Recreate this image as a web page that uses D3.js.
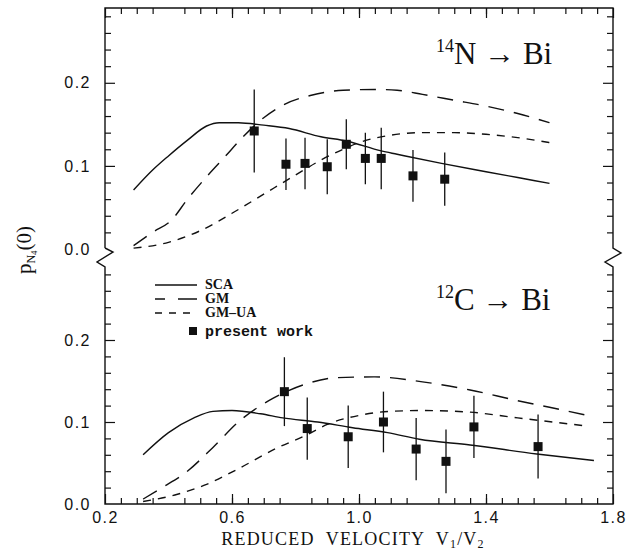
<!DOCTYPE html>
<html>
<head>
<meta charset="utf-8">
<script src="https://cdn.jsdelivr.net/npm/d3@7"></script>
<style>
  body { margin: 0; background: #fff; }
  svg { display: block; }
  .tick text { font-family: "Liberation Sans", sans-serif; font-size: 16px; letter-spacing: 1.5px; fill: #111; }
  .tick line { stroke: #111; stroke-width: 1.2; }
</style>
</head>
<body>
<script>
// data ( [v1/v2, p] )
var topSCA = [[0.29,0.071],[0.35,0.095],[0.40,0.112],[0.46,0.131],[0.52,0.148],[0.56,0.152],[0.62,0.152],[0.70,0.149],[0.78,0.145],[0.88,0.135],[0.96,0.130],[1.07,0.118],[1.12,0.114],[1.26,0.103],[1.40,0.093],[1.50,0.086],[1.60,0.079]];
var topGM = [[0.29,0.004],[0.35,0.020],[0.41,0.035],[0.46,0.060],[0.52,0.087],[0.58,0.112],[0.63,0.133],[0.70,0.158],[0.76,0.173],[0.85,0.185],[0.95,0.191],[1.05,0.192],[1.12,0.191],[1.20,0.186],[1.30,0.179],[1.40,0.172],[1.50,0.163],[1.60,0.152]];
var topGMUA = [[0.29,0.001],[0.40,0.008],[0.50,0.022],[0.60,0.043],[0.70,0.066],[0.80,0.089],[0.88,0.107],[0.95,0.120],[1.00,0.128],[1.10,0.137],[1.20,0.140],[1.30,0.140],[1.40,0.138],[1.50,0.134],[1.60,0.128]];
var topPts = [0.67, 0.77, 0.83, 0.90, 0.96, 1.02, 1.07, 1.17, 1.27];
var topVals = [0.142, 0.102, 0.103, 0.099, 0.126, 0.109, 0.109, 0.088, 0.084];
var topErr = [0.050, 0.031, 0.031, 0.033, 0.030, 0.031, 0.037, 0.031, 0.032];

var botSCA = [[0.32,0.060],[0.40,0.087],[0.48,0.105],[0.54,0.113],[0.60,0.114],[0.69,0.110],[0.76,0.105],[0.87,0.100],[0.98,0.093],[1.09,0.087],[1.19,0.079],[1.35,0.072],[1.56,0.061],[1.74,0.053]];
var botGM = [[0.32,0.006],[0.38,0.020],[0.45,0.037],[0.54,0.069],[0.62,0.100],[0.73,0.129],[0.83,0.146],[0.93,0.154],[1.05,0.155],[1.20,0.149],[1.35,0.139],[1.50,0.126],[1.60,0.118],[1.72,0.108]];
var botGMUA = [[0.32,0.003],[0.42,0.011],[0.52,0.024],[0.62,0.043],[0.74,0.068],[0.84,0.085],[0.90,0.097],[1.00,0.108],[1.10,0.113],[1.20,0.114],[1.35,0.112],[1.50,0.105],[1.72,0.095]];
var botPts = [0.765, 0.837, 0.966, 1.077, 1.18, 1.274, 1.362, 1.564];
var botVals = [0.137, 0.092, 0.082, 0.100, 0.067, 0.052, 0.094, 0.070];
var botErr = [0.042, 0.038, 0.038, 0.037, 0.038, 0.039, 0.038, 0.039];

var xMajor = [0.2, 0.6, 1.0, 1.4, 1.8];
var legNames = ["SCA", "GM", "GM\u2013UA"];

var W = 634, H = 552;
var svg = d3.select("body").append("svg").attr("width", W).attr("height", H);

var x = d3.scaleLinear().domain([0.2, 1.8]).range([105, 613]);
var yTop = d3.scaleLinear().domain([0, 0.29]).range([249, 8]);
var yBot = d3.scaleLinear().domain([0, 0.2]).range([504, 340]);

var xMinor = d3.range(0.25, 1.8, 0.05).filter(function (d) { return Math.abs(d*10/4 - Math.round(d*10/4)) > 0.01; });
var yMinor = d3.range(0.02, 0.29, 0.02).filter(function (d) { return Math.abs(d*10 - Math.round(d*10)) > 0.01; });

// frame with axis breaks
var L = 105, R = 613, T = 8, B = 504;
var frame = "M" + L + "," + 248 + "V" + T + "H" + R + "V" + 248 +
  "L" + (R+8) + ",253L" + (R-8) + ",262L" + R + ",267V" + B + "H" + L + "V267" +
  "L" + (L-8) + ",262L" + (L+8) + ",252L" + L + ",248";
svg.append("path").attr("d", frame).attr("fill", "none").attr("stroke", "#111").attr("stroke-width", 1.4);

// x ticks (bottom + top)
svg.append("g").attr("transform", "translate(0," + B + ")")
  .call(d3.axisBottom(x).tickValues(xMinor).tickSize(-6).tickFormat(""));
svg.append("g").attr("transform", "translate(0," + B + ")")
  .call(d3.axisBottom(x).tickValues(xMajor).tickSize(-10).tickFormat(d3.format(".1f")))
  .selectAll("text").attr("dy", 0).attr("y", 19);
svg.append("g").attr("transform", "translate(0," + T + ")")
  .call(d3.axisTop(x).tickValues(xMinor).tickSize(-6).tickFormat(""));
svg.append("g").attr("transform", "translate(0," + T + ")")
  .call(d3.axisTop(x).tickValues(xMajor).tickSize(-10).tickFormat(""));

// y ticks, both panels, left and right
function yTicks(scale, minor, major) {
  svg.append("g").attr("transform", "translate(" + L + ",0)")
    .call(d3.axisLeft(scale).tickValues(minor).tickSize(-6).tickFormat(""));
  var g = svg.append("g").attr("transform", "translate(" + L + ",0)")
    .call(d3.axisLeft(scale).tickValues(major).tickSize(-10).tickFormat(d3.format(".1f")));
  g.selectAll("text").attr("x", -14);
  svg.append("g").attr("transform", "translate(" + R + ",0)")
    .call(d3.axisRight(scale).tickValues(minor).tickSize(-6).tickFormat(""));
  svg.append("g").attr("transform", "translate(" + R + ",0)")
    .call(d3.axisRight(scale).tickValues(major).tickSize(-10).tickFormat(""));
}
yTicks(yTop, yMinor, [0.1, 0.2]);
yTicks(yBot, yMinor, [0.1, 0.2]);
svg.selectAll(".domain").remove();

// 0.0 labels (at the break and at the bottom corner)
[yTop(0), yBot(0)].forEach(function (d) {
  svg.append("text").attr("x", L - 14).attr("y", d).attr("dy", "0.35em")
    .attr("text-anchor", "end")
    .style("font-family", "Liberation Sans, sans-serif").style("font-size", "16px")
    .style("letter-spacing", "1.5px").style("fill", "#111").text("0.0");
});

// curves
function drawPanel(y, sca, gm, gmua, pts, vals, err) {
  var line = d3.line().x(function (d) { return x(d[0]); }).y(function (d) { return y(d[1]); })
    .curve(d3.curveMonotoneX);
  svg.append("path").datum(sca).attr("d", line).attr("fill", "none").attr("stroke", "#111").attr("stroke-width", 1.4);
  svg.append("path").datum(gm).attr("d", line).attr("fill", "none").attr("stroke", "#111").attr("stroke-width", 1.4)
    .attr("stroke-dasharray", "16,10");
  svg.append("path").datum(gmua).attr("d", line).attr("fill", "none").attr("stroke", "#111").attr("stroke-width", 1.4)
    .attr("stroke-dasharray", "8,7");
  var g = svg.append("g");
  g.selectAll("line").data(pts).enter().append("line")
    .attr("x1", function (d) { return x(d); }).attr("x2", function (d) { return x(d); })
    .attr("y1", function (d, i) { return y(vals[i] + err[i]); })
    .attr("y2", function (d, i) { return y(vals[i] - err[i]); })
    .attr("stroke", "#111").attr("stroke-width", 1.3);
  g.selectAll("rect").data(pts).enter().append("rect")
    .attr("x", function (d) { return x(d) - 4.5; })
    .attr("y", function (d, i) { return y(vals[i]) - 4.5; })
    .attr("width", 9).attr("height", 9).attr("fill", "#111");
}
drawPanel(yTop, topSCA, topGM, topGMUA, topPts, topVals, topErr);
drawPanel(yBot, botSCA, botGM, botGMUA, botPts, botVals, botErr);

// reaction labels
function reaction(xp, yp, mass, el) {
  var t = svg.append("text").attr("x", xp).attr("y", yp)
    .style("font-family", "Liberation Serif, serif").style("font-size", "31px").style("fill", "#111");
  t.append("tspan").attr("font-size", "18px").attr("dy", -12).text(mass);
  t.append("tspan").attr("dy", 12).text(el + " \u2192 Bi");
}
reaction(436, 64, "14", "N");
reaction(436, 310, "12", "C");

// legend
var legY = [285, 299, 313];
var legDash = [null, "10,13,19", "7,7"];
legNames.forEach(function (n, i) {
  svg.append("line").attr("x1", 155).attr("x2", 197).attr("y1", legY[i]).attr("y2", legY[i])
    .attr("stroke", "#111").attr("stroke-width", 1.3).attr("stroke-dasharray", legDash[i]);
  svg.append("text").attr("x", 205).attr("y", legY[i] + 4)
    .style("font-family", "Liberation Serif, serif").style("font-size", "14px").style("font-weight", "bold")
    .style("fill", "#111").text(n);
});
svg.append("rect").attr("x", 189).attr("y", 327).attr("width", 8).attr("height", 8).attr("fill", "#111");
svg.append("text").attr("x", 205).attr("y", 336)
  .style("font-family", "Liberation Mono, monospace").style("font-size", "15px").style("font-weight", "bold")
  .style("fill", "#111").text("present work");

// axis titles
var xt = svg.append("text").attr("x", 353).attr("y", 545).attr("text-anchor", "middle")
  .style("font-family", "Liberation Serif, serif").style("font-size", "18px").style("fill", "#111")
  .style("letter-spacing", "1.2px").style("white-space", "pre");
xt.append("tspan").text("REDUCED  VELOCITY  V");
xt.append("tspan").attr("font-size", "12px").attr("dy", 3).text("1");
xt.append("tspan").attr("dy", -3).text("/V");
xt.append("tspan").attr("font-size", "12px").attr("dy", 3).text("2");

var yt = svg.append("text").attr("transform", "translate(31,250) rotate(-90)").attr("text-anchor", "middle")
  .style("font-family", "Liberation Serif, serif").style("font-size", "21px").style("fill", "#111");
yt.append("tspan").text("p");
yt.append("tspan").attr("font-size", "12px").attr("dy", 4).text("N");
yt.append("tspan").attr("font-size", "9px").attr("dy", 2).text("4");
yt.append("tspan").attr("dy", -6).text("(0)");
</script>
</body>
</html>
